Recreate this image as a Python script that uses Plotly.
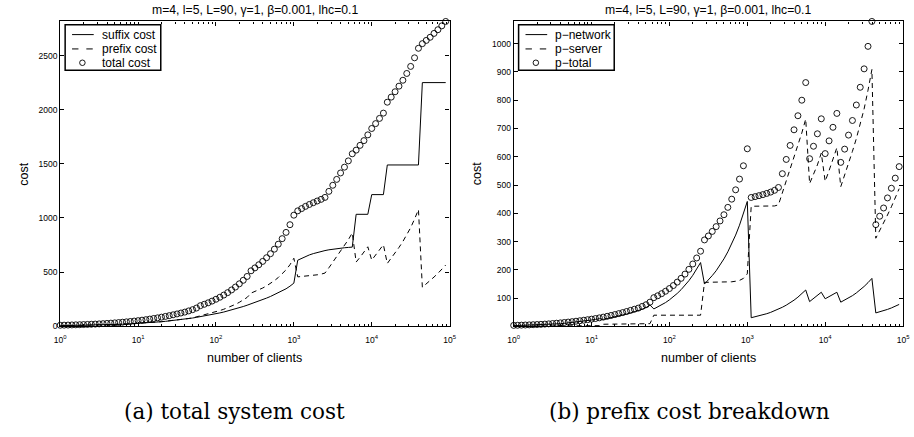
import numpy as np
import plotly.graph_objects as go

# number of clients: 20 log-spaced samples per decade
clients = np.logspace(0, 4.95, 100)

# suffix cost
suffix_cost = [
    5, 5.5, 6, 6.6, 7.2, 7.8, 8.4, 9, 9.7, 10.4,
    11, 12, 13, 14.2, 15.5, 17, 18.5, 20, 21.7, 23.5,
    25.5, 27.7, 30, 32.7, 35.5, 38.5, 41.7, 45, 48.6, 52.5,
    56.5, 61, 65.5, 70.5, 76, 82, 88, 94, 100.5, 107.5,
    115, 123, 131, 140, 150, 160, 171, 182, 194, 206,
    219, 232, 246, 260, 275, 291, 308, 326, 346, 370,
    398, 610, 628, 645, 659, 671, 682, 691, 699, 706,
    712, 717, 721, 725, 728, 731, 1034, 1034, 1034, 1034,
    1216, 1216, 1216, 1216, 1490, 1490, 1490, 1490, 1490, 1490,
    1490, 1490, 1490, 2251, 2251, 2251, 2251, 2251, 2251, 2251,
]

# network part of the prefix cost
p_network = [
    3, 3.4, 3.8, 4.3, 4.8, 5.4, 6, 6.7, 7.5, 8.4,
    7.6, 8.7, 9.9, 11.2, 12.6, 14.1, 15.7, 17.4, 19.2, 21.1,
    23, 25.2, 27.6, 25.2, 28, 31, 34.2, 37.6, 41.2, 44,
    48, 52, 56, 61, 67, 76, 62, 68.7, 76.1, 84.6,
    94.2, 104.8, 116.8, 130.2, 145.2, 162, 180.9, 202.2, 226, 150,
    164, 180, 197, 217, 239, 264, 292, 323, 358, 398,
    442, 31, 34, 37.4, 41.1, 45.3, 50, 55.3, 61.3, 68,
    75.4, 83.8, 93.1, 103.8, 115.7, 129, 88, 99, 110, 121,
    98, 105, 113, 121, 86, 92.8, 100.4, 109, 118.7, 129.4,
    141.5, 155, 170, 48, 51.7, 55.8, 60.4, 65.6, 71.3, 78,
]

# server part of the prefix cost
p_server = [
    1, 1, 1, 1, 1, 1, 1, 1, 1, 1,
    3, 3, 3, 3, 3, 3, 3, 3, 3, 3,
    3, 3, 3, 8, 8, 8, 8, 8, 8, 9,
    9, 9, 9, 10, 10, 10, 40, 40, 40, 40,
    40, 40, 40, 40, 40, 40, 40, 40, 40, 156,
    156, 156, 156, 156, 156, 157, 158, 160, 163, 170,
    186, 425, 425, 425, 425, 425, 425, 426, 430, 472,
    515, 556, 602, 641, 684, 733, 505, 538, 571, 613,
    513, 551, 591, 632, 494, 534, 576, 619, 664, 716,
    769, 835, 908, 312, 338, 363, 394, 423, 453, 487,
]

# the prefix cost is the network part plus the server part
p_total = np.array(p_network) + np.array(p_server)
prefix_cost = p_total
total_cost = np.array(suffix_cost) + prefix_cost

title_text = "m=4, l=5, L=90, \u03b3=1, \u03b2=0.001, lhc=0.1"
decades = [1, 10, 100, 1000, 10000, 100000]
decade_labels = ["10<sup>%d</sup>" % i for i in range(6)]
legend_a = ["suffix cost", "prefix cost", "total cost"]
legend_b = ["p\u2212network", "p\u2212server", "p\u2212total"]

W, H = 914, 437
SANS = "Liberation Sans, Arial, sans-serif"


def px_x(p):
    return p / W


def px_y(p):
    return 1 - p / H


fig = go.Figure()

line_solid = dict(color="black", width=1)
line_dash = dict(color="black", width=1, dash="5px,4px")
marker_o = dict(symbol="circle-open", size=6, color="black", line=dict(width=0.9, color="black"))

panels = [("x", "y", legend_a, suffix_cost, prefix_cost, total_cost),
          ("x2", "y2", legend_b, p_network, p_server, p_total)]
for xa, ya, names, s_line, d_line, circles in panels:
    fig.add_trace(go.Scatter(x=clients, y=s_line, mode="lines", line=line_solid,
                             name=names[0], xaxis=xa, yaxis=ya, showlegend=False))
    fig.add_trace(go.Scatter(x=clients, y=d_line, mode="lines", line=line_dash,
                             name=names[1], xaxis=xa, yaxis=ya, showlegend=False))
    fig.add_trace(go.Scatter(x=clients, y=circles, mode="markers", marker=marker_o,
                             name=names[2], xaxis=xa, yaxis=ya, showlegend=False,
                             cliponaxis=False))

tick_font = dict(family=SANS, size=8.5, color="black")

xaxis_common = dict(
    type="log", range=[0, 5], tickvals=decades, ticktext=decade_labels,
    ticks="inside", ticklen=4, tickcolor="black", tickwidth=1, ticklabelstandoff=5,
    minor=dict(ticks="inside", ticklen=2, tickcolor="black", tickwidth=0.8, dtick="D1", showgrid=False),
    showline=True, linecolor="black", linewidth=1.2, mirror="ticks",
    showgrid=False, zeroline=False, tickfont=tick_font,
)
yaxis_common = dict(
    ticks="inside", ticklen=4, tickcolor="black", tickwidth=1,
    showline=True, linecolor="black", linewidth=1.2, mirror="ticks",
    showgrid=False, zeroline=False, tickfont=tick_font,
)

ymax_a = float(np.max(total_cost))
ymax_b = float(np.max(p_total))
ymin_b = float(min(np.min(p_network), np.min(p_server)))

fig.update_layout(
    width=W, height=H, margin=dict(l=0, r=0, t=0, b=0),
    paper_bgcolor="white", plot_bgcolor="white",
    font=dict(family=SANS, color="black"),
    xaxis=dict(domain=[px_x(55), px_x(450)], anchor="y", **xaxis_common),
    yaxis=dict(domain=[px_y(330), px_y(21.7)], anchor="x", range=[0, ymax_a],
               tickvals=[0, 500, 1000, 1500, 2000, 2500], **yaxis_common),
    xaxis2=dict(domain=[px_x(515), px_x(910)], anchor="y2", **xaxis_common),
    yaxis2=dict(domain=[px_y(330), px_y(21.7)], anchor="x2", range=[ymin_b, ymax_b],
                tickvals=list(range(100, 1001, 100)), **yaxis_common),
    showlegend=False,
)

annotations = []
shapes = []
for cx in (252.5, 712.5):
    annotations.append(dict(text=title_text, x=px_x(cx), y=px_y(10), xref="paper", yref="paper",
                            showarrow=False, xanchor="center", yanchor="middle",
                            font=dict(family=SANS, size=12.2, color="black")))
    annotations.append(dict(text="number of clients", x=px_x(cx), y=px_y(362), xref="paper", yref="paper",
                            showarrow=False, xanchor="center", yanchor="middle",
                            font=dict(family=SANS, size=12.5, color="black")))
for lx in (18, 478):
    annotations.append(dict(text="cost", x=px_x(lx), y=px_y(176), xref="paper", yref="paper",
                            showarrow=False, xanchor="center", yanchor="middle", textangle=-90,
                            font=dict(family=SANS, size=12.5, color="black")))
for cx, txt in ((232, "(a) total system cost"), (693, "(b) prefix cost breakdown")):
    annotations.append(dict(text=txt, x=px_x(cx), y=px_y(416), xref="paper", yref="paper",
                            showarrow=False, xanchor="center", yanchor="middle",
                            font=dict(family="DejaVu Serif, serif", size=21.5, color="black")))

# legend boxes, drawn in the upper-left corner of each panel
rows = [35, 49.5, 63.5]
for x0, names in ((60, legend_a), (520, legend_b)):
    shapes.append(dict(type="rect", xref="paper", yref="paper",
                       x0=px_x(x0), x1=px_x(x0 + 97), y0=px_y(25), y1=px_y(71),
                       line=dict(color="black", width=1.5), fillcolor="white", layer="above"))
    shapes.append(dict(type="line", xref="paper", yref="paper",
                       x0=px_x(x0 + 7), x1=px_x(x0 + 29), y0=px_y(rows[0]), y1=px_y(rows[0]),
                       line=dict(color="black", width=1), layer="above"))
    for a, b in ((x0 + 7, x0 + 13.5), (x0 + 21.5, x0 + 28)):
        shapes.append(dict(type="line", xref="paper", yref="paper",
                           x0=px_x(a), x1=px_x(b), y0=px_y(rows[1]), y1=px_y(rows[1]),
                           line=dict(color="black", width=1), layer="above"))
    cxm = x0 + 17.5
    shapes.append(dict(type="circle", xref="paper", yref="paper",
                       x0=px_x(cxm - 2.8), x1=px_x(cxm + 2.8), y0=px_y(rows[2] - 2.8), y1=px_y(rows[2] + 2.8),
                       line=dict(color="black", width=0.9), layer="above"))
    for r, name in zip(rows, names):
        annotations.append(dict(text=name, x=px_x(x0 + 35), y=px_y(r), xref="paper", yref="paper",
                                showarrow=False, xanchor="left", yanchor="middle",
                                font=dict(family=SANS, size=12, color="black")))

fig.update_layout(annotations=annotations, shapes=shapes)

fig.write_html("out.html")
